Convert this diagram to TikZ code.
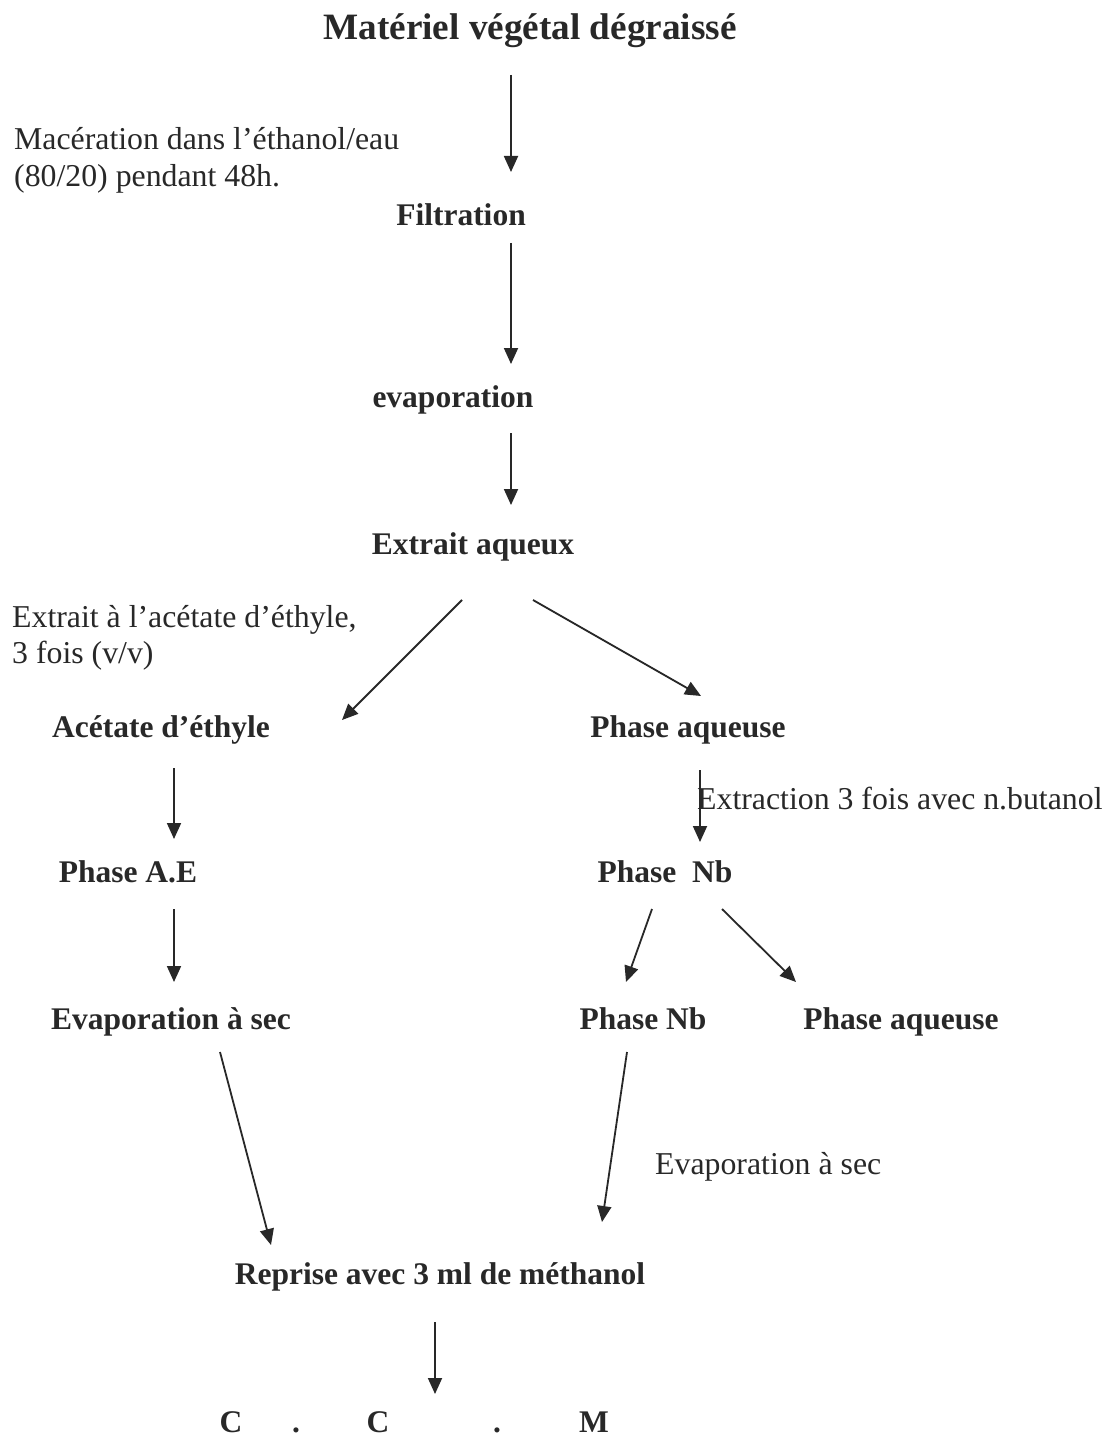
\documentclass[tikz,border=0pt]{standalone}
\usepackage{fontspec}
\setmainfont{Liberation Serif}
\usetikzlibrary{arrows.meta}
\definecolor{ink}{RGB}{40,40,40}
\begin{document}
\begin{tikzpicture}[x=1pt,y=-1pt,
  lbl/.style={inner sep=0pt,anchor=base,text=ink,font=\fontsize{31.5}{36}\selectfont\bfseries},
  note/.style={inner sep=0pt,anchor=base west,text=ink,font=\fontsize{31.8}{36}\selectfont,align=left},
  flow/.style={draw=ink,line width=1.8pt,-{Triangle[width=14pt,length=16pt]}}]
\useasboundingbox[fill=white] (0,0) rectangle (1106,1439);
% nodes
\node[lbl,font=\fontsize{37.2}{42}\selectfont\bfseries] (title) at (530,40) {Matériel végétal dégraissé};
\node[note] (mac1) at (14,150) {Macération dans l’éthanol/eau};
\node[note] (mac2) at (14,187) {(80/20) pendant 48h.};
\node[lbl] (filt) at (461,226) {Filtration};
\node[lbl] (evap) at (453,407) {evaporation};
\node[lbl] (extr) at (473,554) {Extrait aqueux};
\node[note] (ae1) at (12,627) {Extrait à l’acétate d’éthyle,};
\node[note] (ae2) at (12,663) {3 fois (v/v)};
\node[lbl] (acet) at (161,737) {Acétate d’éthyle};
\node[lbl] (paq) at (688,737) {Phase aqueuse};
\node[note] (butlab) at (697,809) {Extraction 3 fois avec n.butanol};
\node[lbl] (pae) at (128,882) {Phase A.E};
\node[lbl] (pnb) at (665,882) {Phase\ \ Nb};
\node[lbl] (evs) at (171,1029) {Evaporation à sec};
\node[lbl] (pnb2) at (643,1029) {Phase Nb};
\node[lbl] (paq2) at (901,1029) {Phase aqueuse};
\node[note] (evslab) at (655,1174) {Evaporation à sec};
\node[lbl] (repr) at (440,1284) {Reprise avec 3 ml de méthanol};
\node[lbl] (c1) at (231,1432) {C};
\node[lbl] (d1) at (296,1432) {.};
\node[lbl] (c2) at (378,1432) {C};
\node[lbl] (d2) at (497,1432) {.};
\node[lbl] (m1) at (594,1432) {M};
% arrow ends
\coordinate (a1s) at (511,75);   \coordinate (a1e) at (511,172);
\coordinate (a2s) at (511,243);  \coordinate (a2e) at (511,364);
\coordinate (a3s) at (511,433);  \coordinate (a3e) at (511,505);
\coordinate (a4s) at (462,600);  \coordinate (a4e) at (342,720);
\coordinate (a5s) at (533,600);  \coordinate (a5e) at (701,696);
\coordinate (a6s) at (174,768);  \coordinate (a6e) at (174,839);
\coordinate (a7s) at (700,770);  \coordinate (a7e) at (700,842);
\coordinate (a8s) at (174,909);  \coordinate (a8e) at (174,982);
\coordinate (a9s) at (652,909);  \coordinate (a9e) at (626,982);
\coordinate (a10s) at (722,909); \coordinate (a10e) at (796,982);
\coordinate (a11s) at (220,1052);\coordinate (a11e) at (271,1245);
\coordinate (a12s) at (627,1052);\coordinate (a12e) at (602,1222);
\coordinate (a13s) at (435,1322);\coordinate (a13e) at (435,1394);
\foreach \i in {1,...,13} \draw[flow] (a\i s) -- (a\i e);
\end{tikzpicture}
\end{document}
